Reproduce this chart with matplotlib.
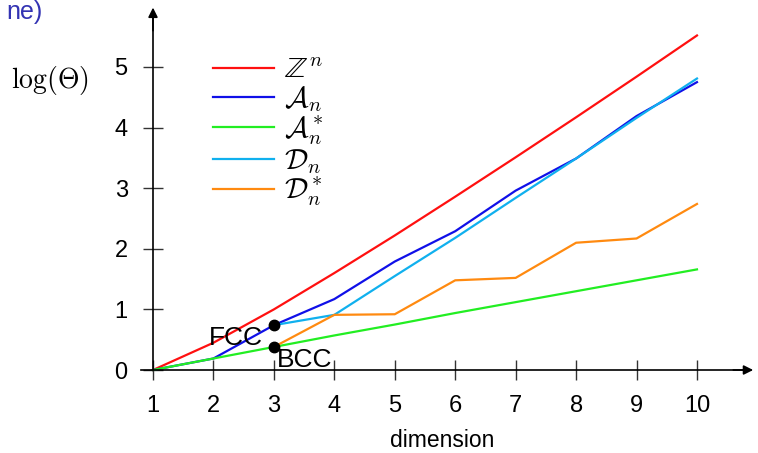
import matplotlib
matplotlib.use('Agg')
import matplotlib.pyplot as plt
from matplotlib import font_manager

# fonts : une police sans-serif étroite si elle existe
noms = {f.name for f in font_manager.fontManager.ttflist}
sans = 'Liberation Sans Narrow' if 'Liberation Sans Narrow' in noms else 'Liberation Sans'
plt.rcParams['font.family'] = [sans, 'DejaVu Sans']
plt.rcParams['mathtext.fontset'] = 'cm'

# Données (log de la densité de recouvrement)
dims = [1, 2, 3, 4, 5, 6, 7, 8, 9, 10]
z_n = [0, 0.45, 1.0, 1.6, 2.22, 2.86, 3.51, 4.17, 4.84, 5.52]
a_n = [0, 0.19, 0.74, 1.17, 1.79, 2.29, 2.96, 3.49, 4.19, 4.75]
a_n_star = [0, 0.19, 0.38, 0.57, 0.75, 0.94, 1.12, 1.30, 1.48, 1.66]
d_dims = [3, 4, 5, 6, 7, 8, 9, 10]
d_n = [0.74, 0.91, 1.55, 2.18, 2.84, 3.49, 4.16, 4.81]
d_n_star = [0.38, 0.91, 0.92, 1.48, 1.52, 2.10, 2.17, 2.74]

points_noms = ['FCC', 'BCC']
points_x = [3, 3]
points_y = [0.74, 0.38]

W, H = 758, 453
fig = plt.figure(figsize=(W / 100, H / 100), dpi=100)
ax = fig.add_axes([140 / W, (H - 382) / H, 615 / W, 377 / H])
ax.set_xlim(0.785, 10.96)
ax.set_ylim(-0.198, 6.023)

lw = 1.6
ax.plot(dims, z_n, color='#ff1010', lw=lw, label=r'$\mathbb{Z}^n$')
ax.plot(dims, a_n, color='#1010e8', lw=lw, label=r'$\mathcal{A}_n$')
ax.plot(dims, a_n_star, color='#22ee22', lw=lw, label=r'$\mathcal{A}_n^*$')
ax.plot(d_dims, d_n, color='#10b0ee', lw=lw, label=r'$\mathcal{D}_n$')
ax.plot(d_dims, d_n_star, color='#ff8a10', lw=lw, label=r'$\mathcal{D}_n^*$')

# points FCC / BCC
ax.plot(points_x, points_y, 'o', color='black', ms=7.5, zorder=5)
ax.annotate(points_noms[0], (points_x[0], points_y[0]), xytext=(-8, -14.4),
            textcoords='offset points', ha='right', va='baseline', fontsize=19)
ax.annotate(points_noms[1], (points_x[1], points_y[1]), xytext=(2, -14.4),
            textcoords='offset points', ha='left', va='baseline', fontsize=19)

# axes en flèches
for s in ['top', 'right']:
    ax.spines[s].set_visible(False)
ax.spines['left'].set_position(('data', 1))
ax.spines['bottom'].set_position(('data', 0))
ax.spines['left'].set_bounds(0, 5.9)
ax.spines['bottom'].set_bounds(0.8, 10.85)
for s in ['left', 'bottom']:
    ax.spines[s].set_linewidth(1.2)
ax.annotate('', xy=(10.93, 0), xytext=(10.6, 0),
            arrowprops=dict(arrowstyle='-|>', color='black', lw=1.2,
                            mutation_scale=14, shrinkA=0, shrinkB=0))
ax.annotate('', xy=(1, 5.98), xytext=(1, 5.6),
            arrowprops=dict(arrowstyle='-|>', color='black', lw=1.2,
                            mutation_scale=14, shrinkA=0, shrinkB=0))

ax.set_xticks(dims)
ax.set_yticks([0, 1, 2, 3, 4, 5])
ax.tick_params(direction='inout', length=14.4, width=1, color='#333333',
               pad=11, labelsize=17)

fig.text(442 / W, 1 - 447 / H, 'dimension', ha='center', va='baseline', fontsize=16.5)
fig.text(50 / W, 1 - 88 / H, r'$\log(\Theta)$', ha='center', va='baseline', fontsize=20)

# morceau du titre (coupé dans l'original)
fig.text(43 / W, 1 - 19 / H, 'ne)', ha='right', va='baseline', fontsize=18,
         color='#3333b3')

ax.legend(loc='upper left', bbox_to_anchor=(213 / W, 1 - 56 / H),
          bbox_transform=fig.transFigure, frameon=False, fontsize=21,
          handlelength=2.1, handletextpad=0.35, labelspacing=0.0,
          borderpad=0, borderaxespad=0)

fig.savefig('out.png', dpi=100)
